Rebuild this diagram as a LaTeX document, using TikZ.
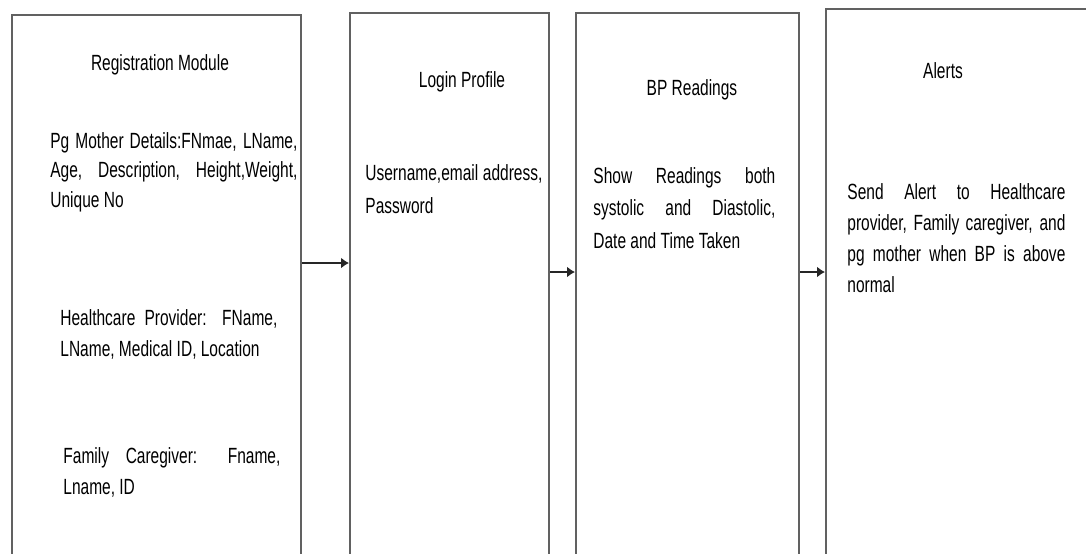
\documentclass[tikz,border=0pt]{standalone}
\usepackage{fontspec}
\setmainfont{Liberation Sans}[FakeStretch=0.705]
\usetikzlibrary{arrows.meta}
\hyphenpenalty=10000
\exhyphenpenalty=10000

\begin{document}
\begin{tikzpicture}[x=0.5pt,y=-0.5pt,
  module/.style={draw=black!62, line width=1pt, anchor=north west, inner sep=0pt},
  heading/.style={anchor=base, inner sep=0pt, font=\fontsize{11}{15.5}\selectfont},
  detail/.style={anchor=base west, inner sep=0pt, align=justify, font=\fontsize{11}{15.5}\selectfont},
  flow/.style={draw=black!85, line width=1pt, -{Latex[length=4pt,width=5.5pt]}}]
\useasboundingbox (0,0) rectangle (1086,553);
% the four modules
\node [module, minimum width=144.5pt, minimum height=275pt] (reg) at (11,14) {};
\node [module, minimum width=99.5pt, minimum height=276pt] (login) at (349,12) {};
\node [module, minimum width=111.5pt, minimum height=276pt] (bp) at (575,12) {};
\node [module, minimum width=140pt, minimum height=278pt] (alerts) at (825,8) {};
% titles
\node [heading] (regT) at (160,70) {Registration Module};
\node [heading] (loginT) at (462,87) {Login Profile};
\node [heading] (bpT) at (692,95) {BP Readings};
\node [heading] (alertsT) at (943,78) {Alerts};
% details
\node [detail, text width=123.5pt, font=\fontsize{11}{14.75}\selectfont] (mother) at (50,148)
  {Pg Mother Details:FNmae, LName,\linebreak Age, Description, Height,Weight,\linebreak Unique No};
\node [detail, text width=108.5pt] (provider) at (60,325)
  {Healthcare Provider: FName,\linebreak LName, Medical ID, Location};
\node [detail, text width=108.5pt] (caregiver) at (63,463)
  {Family Caregiver: Fname,\linebreak Lname, ID};
\node [detail, text width=88.5pt, font=\fontsize{11}{16.5}\selectfont] (account) at (365,180)
  {Username,email address,\linebreak Password};
\node [detail, text width=91pt, font=\fontsize{11}{16.25}\selectfont] (readings) at (593,183)
  {Show Readings both\linebreak systolic and Diastolic,\linebreak Date and Time Taken};
\node [detail, text width=109pt] (notify) at (847,199)
  {Send Alert to Healthcare\linebreak provider, Family caregiver, and\linebreak pg mother when BP is above\linebreak normal};
% connectors
\coordinate (a1) at (0,263);
\coordinate (a2) at (0,272);
\draw [flow] (reg.east |- a1) -- (login.west |- a1);
\draw [flow] (login.east |- a2) -- (bp.west |- a2);
\draw [flow] (bp.east |- a2) -- (alerts.west |- a2);
\end{tikzpicture}
\end{document}
